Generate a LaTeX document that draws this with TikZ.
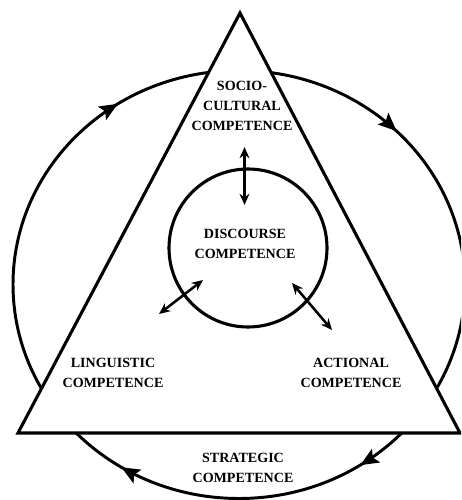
\documentclass[tikz,border=0pt]{standalone}
\usepackage{fontspec}
\setmainfont{Liberation Serif}
\usepackage{tikz}
\usetikzlibrary{arrows.meta, decorations.markings}
\tikzset{
    outerRing/.style={draw, line width=2.1pt, postaction={decorate},
        decoration={markings,
            mark=at position 0.125 with {\arrowreversed{Stealth[length=13pt, width=11pt, inset=2.5pt]}},
            mark=at position 0.342 with {\arrowreversed{Stealth[length=13pt, width=11pt, inset=2.5pt]}},
            mark=at position 0.661 with {\arrowreversed{Stealth[length=13pt, width=11pt, inset=2.5pt]}},
            mark=at position 0.842 with {\arrowreversed{Stealth[length=13pt, width=11pt, inset=2.5pt]}}}},
    triangle/.style={draw, line width=2.2pt, fill=white, line join=miter},
    innerRing/.style={draw, line width=2.2pt},
    biArrow/.style={{Stealth[length=8pt, width=7pt]}-{Stealth[length=8pt, width=7pt]}, line width=1.8pt},
    compLabel/.style={align=center, inner sep=0pt, font=\fontsize{10}{14.2}\selectfont\bfseries}
}

\begin{document}
\begin{tikzpicture}[x=0.025cm, y=0.025cm]
    \useasboundingbox (0,0) rectangle (461,-500);
    \clip (0,0) rectangle (461,-500);

    % Strategic ring behind the triangle
    \coordinate (ringC) at (239,-284.5);
    \path [outerRing] (ringC) ellipse [x radius=226, y radius=214];

    % Triangle and discourse circle
    \path [triangle] (240,-13) coordinate (apex) -- (18,-433) coordinate (baseL) -- (460,-433) coordinate (baseR) -- cycle;
    \coordinate (discC) at (248,-248);
    \path [innerRing] (discC) circle [radius=79];

    % Labels
    \node [compLabel] (socio) at (242,-106) {SOCIO-\\CULTURAL\\COMPETENCE};
    \node [compLabel] (disc) at (245,-243.5) {DISCOURSE\\COMPETENCE};
    \node [compLabel] (ling) at (113,-373) {LINGUISTIC\\COMPETENCE};
    \node [compLabel] (act) at (351,-373) {ACTIONAL\\COMPETENCE};
    \node [compLabel] (strat) at (243,-467.5) {STRATEGIC\\COMPETENCE};

    % Arrow ends
    \coordinate (socioEnd) at (244.5,-147);
    \coordinate (discTop) at (244.5,-205);
    \coordinate (lingEnd) at (159,-314);
    \coordinate (discLeft) at (203,-280);
    \coordinate (discRight) at (292,-283);
    \coordinate (actEnd) at (332,-330);

    % Double arrows
    \draw [biArrow] (socioEnd) -- (discTop);
    \draw [biArrow] (lingEnd) -- (discLeft);
    \draw [biArrow] (discRight) -- (actEnd);
\end{tikzpicture}
\end{document}
